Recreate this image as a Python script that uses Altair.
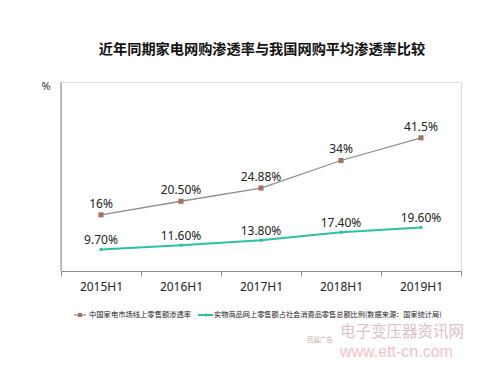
import altair as alt
import pandas as pd

periods = ["2015H1", "2016H1", "2017H1", "2018H1", "2019H1"]
appliance = [16, 20.5, 24.88, 34, 41.5]
appliance_labels = ["16%", "20.50%", "24.88%", "34%", "41.5%"]
overall = [9.7, 11.6, 13.8, 17.4, 19.6]
overall_labels = ["9.70%", "11.60%", "13.80%", "17.40%", "19.60%"]
series_names = ["中国家电市场线上零售额渗透率",
                "实物商品网上零售额占社会消费品零售总额比例(数据来源：国家统计局)"]
title_text = "近年同期家电网购渗透率与我国网购平均渗透率比较"
y_unit = "%"
watermark = ["电子变压器资讯网", "www.ett-cn.com", "苕晨广告"]

W, H = 400, 189
BROWN_LINE = "#8e8e8e"
BROWN = "#a8705a"
TEAL = "#2cc1a2"
CJK = "Noto Sans CJK SC"
LAT = "Noto Sans"

df_a = pd.DataFrame({"period": periods, "value": appliance, "label": appliance_labels})
df_o = pd.DataFrame({"period": periods, "value": overall, "label": overall_labels})

xaxis = alt.Axis(title=None, labelAngle=0, tickBand="extent", ticks=True, tickSize=5,
                 labelPadding=5, domainColor="#8a8a8a", tickColor="#8a8a8a",
                 labelFontSize=12, labelColor="#222222", labelFont=LAT, grid=False)
xenc = alt.X("period:N", sort=periods, axis=xaxis,
             scale=alt.Scale(type="band", paddingInner=0, paddingOuter=0))

ya = alt.Y("value:Q", axis=None, scale=alt.Scale(domain=[-2.6, 60], nice=False, zero=False))
yo = alt.Y("value:Q", axis=None, scale=alt.Scale(domain=[0, 85], nice=False, zero=False))

base_a = alt.Chart(df_a).encode(x=xenc, y=ya)
brown = alt.layer(
    base_a.mark_line(color=BROWN_LINE, strokeWidth=1.3),
    base_a.mark_square(color=BROWN, size=26, opacity=1),
    base_a.mark_text(dy=-11, fontSize=12, font=LAT, color="#222222").encode(text="label:N"),
)

base_o = alt.Chart(df_o).encode(x=xenc, y=yo)
teal = alt.layer(
    base_o.mark_line(color=TEAL, strokeWidth=2),
    base_o.mark_circle(color=TEAL, size=12, opacity=1),
    base_o.mark_text(dy=-9, fontSize=12, font=LAT, color="#222222").encode(text="label:N"),
)

one = pd.DataFrame({"k": [0]})

yaxis_line = alt.Chart(one).mark_rule(color="#8a8a8a", strokeWidth=1).encode(
    x=alt.value(0), y=alt.value(0), y2=alt.value(H))
unit = alt.Chart(one).mark_text(text=y_unit, fontSize=11, font=LAT, color="#333333").encode(
    x=alt.value(-15), y=alt.value(5))
title = alt.Chart(one).mark_text(text=title_text, fontSize=14.2, fontWeight="bold", font=CJK,
                                 color="#111111").encode(x=alt.value(201), y=alt.value(-32))

leg_y = 233
leg_a_rule = alt.Chart(one).mark_rule(color=BROWN_LINE, strokeWidth=1.3).encode(
    x=alt.value(13), x2=alt.value(25), y=alt.value(leg_y))
leg_a_pt = alt.Chart(one).mark_square(color=BROWN, size=16, opacity=1).encode(
    x=alt.value(19), y=alt.value(leg_y))
leg_a_txt = alt.Chart(one).mark_text(text=series_names[0], fontSize=7.3, font=CJK, align="left",
                                     color="#222222").encode(x=alt.value(28), y=alt.value(leg_y))
leg_o_rule = alt.Chart(one).mark_rule(color=TEAL, strokeWidth=2).encode(
    x=alt.value(137), x2=alt.value(152), y=alt.value(leg_y))
leg_o_pt = alt.Chart(one).mark_circle(color=TEAL, size=10, opacity=1).encode(
    x=alt.value(145), y=alt.value(leg_y))
leg_o_txt = alt.Chart(one).mark_text(text=series_names[1], fontSize=7.2, font=CJK, align="left",
                                     color="#222222").encode(x=alt.value(153), y=alt.value(leg_y))

wm1 = alt.Chart(one).mark_text(text=watermark[0], fontSize=15.5, font=CJK, align="left",
                               color="#d9b3b8", opacity=0.8).encode(x=alt.value(279), y=alt.value(250))
wm2 = alt.Chart(one).mark_text(text=watermark[1], fontSize=16, font="Liberation Sans", align="left",
                               color="#f0a8b0", opacity=0.7).encode(x=alt.value(279), y=alt.value(270))
wm3 = alt.Chart(one).mark_text(text=watermark[2], fontSize=6.5, font=CJK, align="left",
                               color="#c8a0a0", opacity=0.8).encode(x=alt.value(246), y=alt.value(258))

chart = alt.layer(
    alt.layer(brown, teal).resolve_scale(y="independent"),
    yaxis_line, unit, title,
    leg_a_rule, leg_a_pt, leg_a_txt, leg_o_rule, leg_o_pt, leg_o_txt,
    wm1, wm2, wm3,
).properties(
    width=W, height=H,
    autosize=alt.AutoSizeParams(type="none"),
    padding={"left": 53, "top": 74, "right": 30, "bottom": 100},
).configure_view(stroke=None).configure(background="white")

chart.save("out.html", embed_options={"renderer": "svg", "actions": False})
